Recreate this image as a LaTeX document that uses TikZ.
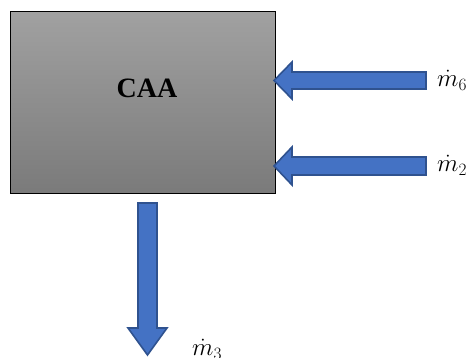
\documentclass[tikz,border=0pt]{standalone}
\usepackage{fontspec}
\setmainfont{Liberation Serif}
\begin{document}
\begin{tikzpicture}[x=1pt,y=-1pt,
  flowarrow/.style={fill=arrowblue,draw=arrowedge,line width=1.6pt,line join=miter},
  flowlabel/.style={anchor=west,inner sep=0pt,font=\fontsize{27}{30}\selectfont}]
\definecolor{arrowblue}{HTML}{4472C4}
\definecolor{arrowedge}{HTML}{2F528F}
\useasboundingbox (0,0) rectangle (476,358);
\draw[line width=1pt,top color=black!37,bottom color=black!52] (10,12) rectangle (275,193);
\node[font=\fontsize{28}{30}\selectfont\bfseries] (caa) at (147,88) {CAA};
% m6 arrow
\draw[flowarrow] (426,72) -- (292,72) -- (292,62) -- (274,80.5) -- (292,99) -- (292,89) -- (426,89) -- cycle;
% m2 arrow
\draw[flowarrow] (426,157) -- (292,157) -- (292,147) -- (274,166) -- (292,185) -- (292,175) -- (426,175) -- cycle;
% m3 arrow
\draw[flowarrow] (138,203) -- (157,203) -- (157,328) -- (167,328) -- (147.5,355) -- (128,328) -- (138,328) -- cycle;
\node[flowlabel] (m6) at (437,80) {$\dot{m}_6$};
\node[flowlabel] (m2) at (437,165) {$\dot{m}_2$};
\node[flowlabel] (m3) at (192,349) {$\dot{m}_3$};
\end{tikzpicture}
\end{document}
